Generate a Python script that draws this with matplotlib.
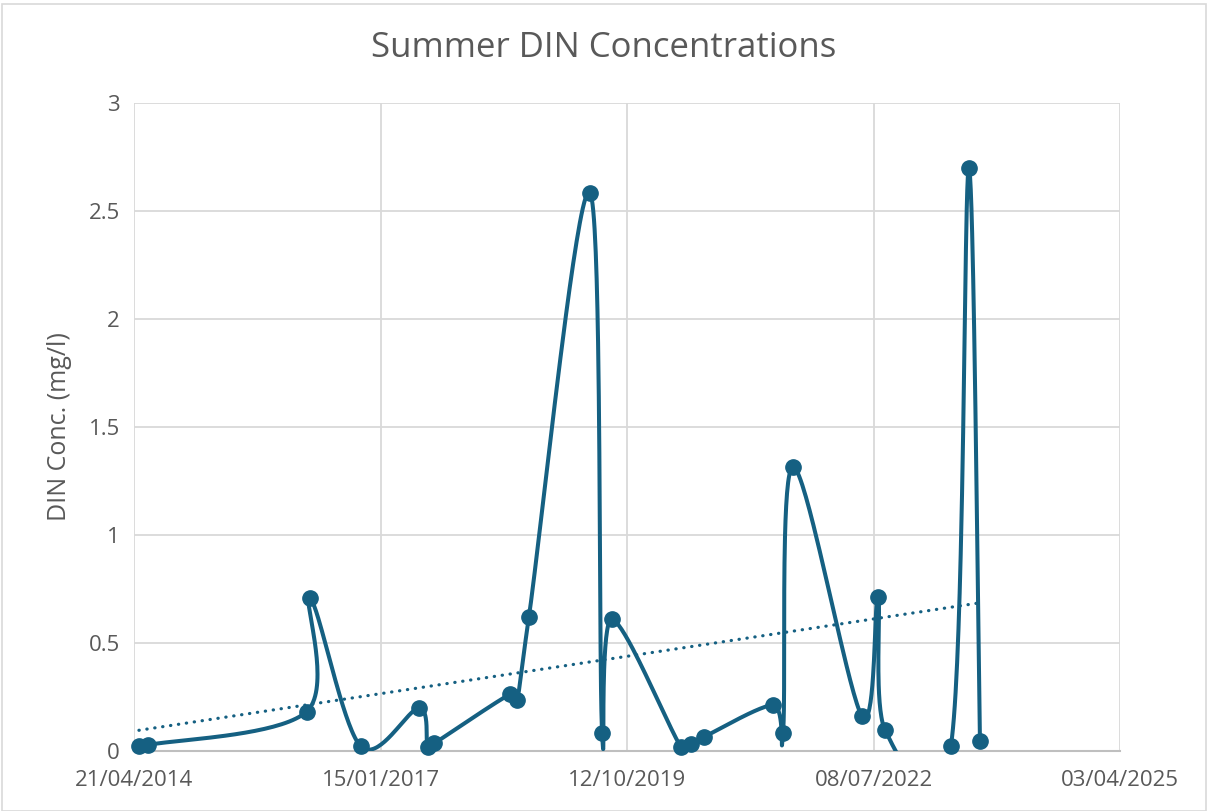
import numpy as np
import pandas as pd
import matplotlib
matplotlib.use("Agg")
import matplotlib.pyplot as plt
import matplotlib.dates as mdates
from matplotlib.patches import Rectangle

# data
sample_dates = ["2014-05-11", "2014-06-17", "2016-03-21", "2016-04-04", "2016-10-26",
                "2017-06-20", "2017-07-25", "2017-08-22", "2018-06-26", "2018-07-23",
                "2018-09-09", "2019-05-15", "2019-07-03", "2019-08-12", "2020-05-18",
                "2020-06-28", "2020-08-19", "2021-05-26", "2021-07-06", "2021-08-15",
                "2022-05-22", "2022-07-26", "2022-08-24", "2023-05-18", "2023-07-30",
                "2023-09-13"]
din_conc = [0.025, 0.028, 0.182, 0.707, 0.023,
            0.198, 0.020, 0.036, 0.264, 0.236,
            0.620, 2.585, 0.083, 0.610, 0.018,
            0.032, 0.065, 0.213, 0.083, 1.315,
            0.162, 0.713, 0.097, 0.023, 2.700,
            0.046]
tick_dates = ["2014-04-21", "2017-01-15", "2019-10-12", "2022-07-08", "2025-04-03"]
y_ticks = [0, 0.5, 1, 1.5, 2, 2.5, 3]
y_tick_labels = ["0", "0.5", "1", "1.5", "2", "2.5", "3"]

line_col = "#156082"
text_col = "#595959"
grid_col = "#D9D9D9"

plt.rcParams["font.family"] = ["Open Sans", "DejaVu Sans"]

x = mdates.date2num(pd.to_datetime(sample_dates))
y = np.array(din_conc)
ticks = mdates.date2num(pd.to_datetime(tick_dates))

fig = plt.figure(figsize=(12.08, 8.11), dpi=100)
fig.add_artist(Rectangle((0.002, 0.0), 0.996, 0.995, transform=fig.transFigure,
                         fill=False, edgecolor="#D9D9D9", linewidth=1.2))

ax = fig.add_axes([134 / 1208, 60 / 811, 986 / 1208, 648 / 811])
ax.set_xlim(ticks[0], ticks[-1])
ax.set_ylim(0, 3)
ax.set_xticks(ticks)
ax.xaxis.set_major_formatter(mdates.DateFormatter("%d/%m/%Y"))
ax.set_yticks(y_ticks)
ax.set_yticklabels(y_tick_labels)
ax.tick_params(length=0, labelsize=16, labelcolor=text_col)
ax.tick_params(axis="x", pad=14)
ax.tick_params(axis="y", pad=10)
ax.grid(True, color=grid_col, linewidth=1.3)
ax.set_axisbelow(True)
for s in ["top", "right", "left"]:
    ax.spines[s].set_visible(False)
ax.spines["bottom"].set_color("#BFBFBF")
ax.spines["bottom"].set_linewidth(1.5)

# smoothed line (catmull-rom style bezier, done in pixel space like Excel)
pts = ax.transData.transform(np.column_stack([x, y]))
P = np.vstack([pts[0], pts, pts[-1]])
t = np.linspace(0, 1, 40)[:, None]
curve = []
for i in range(1, len(P) - 2):
    p0, p1, p2, p3 = P[i - 1], P[i], P[i + 1], P[i + 2]
    c1 = p1 + (p2 - p0) / 6
    c2 = p2 - (p3 - p1) / 6
    seg = ((1 - t) ** 3) * p1 + 3 * ((1 - t) ** 2) * t * c1 + 3 * (1 - t) * t ** 2 * c2 + t ** 3 * p2
    curve.append(seg)
curve = ax.transData.inverted().transform(np.vstack(curve))
ax.plot(curve[:, 0], curve[:, 1], color=line_col, linewidth=2.9, solid_capstyle="round", zorder=3)
ax.plot(x, y, "o", color=line_col, markersize=11, zorder=4, clip_on=False)

# linear trendline
slope, intercept = np.polyfit(x, y, 1)
tx = np.array([x[0], x[-1]])
ax.plot(tx, slope * tx + intercept, color=line_col, linewidth=2.3,
        linestyle=(0, (0.1, 2.4)), dash_capstyle="round", zorder=2)

ax.set_ylabel("DIN Conc. (mg/l)", fontsize=18, color=text_col, labelpad=12)
fig.text(0.5, 1 - 48 / 811, "Summer DIN Concentrations", ha="center", va="center",
         fontsize=25, color=text_col)

fig.savefig("out.png", dpi=100)
